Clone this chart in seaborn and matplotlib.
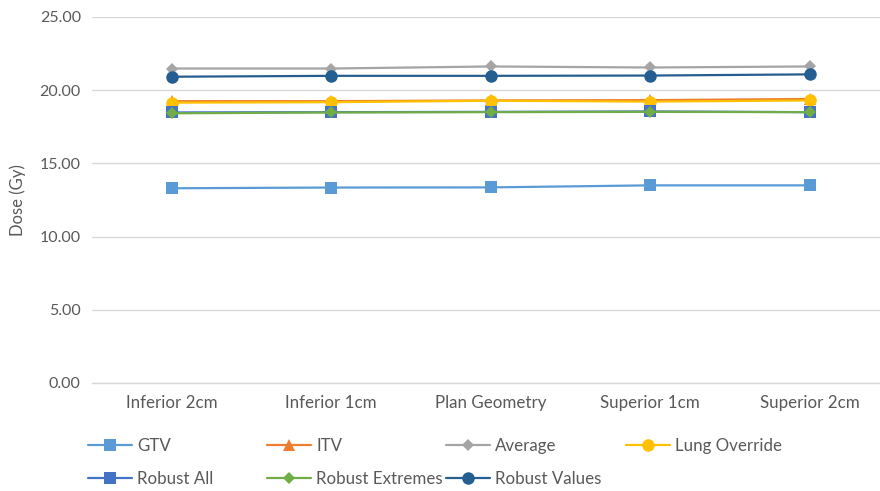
import matplotlib
matplotlib.use("Agg")
import matplotlib.pyplot as plt
import seaborn as sns
import pandas as pd

# Scenario positions along the x axis
categories = ["Inferior 2cm", "Inferior 1cm", "Plan Geometry", "Superior 1cm", "Superior 2cm"]

# Dose values (Gy) per structure / planning approach
gtv = [13.30, 13.35, 13.36, 13.50, 13.50]
itv = [19.25, 19.25, 19.30, 19.32, 19.40]
average = [21.48, 21.48, 21.62, 21.55, 21.62]
lung_override = [19.15, 19.18, 19.28, 19.22, 19.30]
robust_all = [18.48, 18.50, 18.52, 18.55, 18.50]
robust_extremes = [18.42, 18.48, 18.50, 18.52, 18.50]
robust_values = [20.92, 20.98, 20.98, 21.00, 21.08]

series_names = ["GTV", "ITV", "Average", "Lung Override",
                "Robust All", "Robust Extremes", "Robust Values"]
series_values = [gtv, itv, average, lung_override,
                 robust_all, robust_extremes, robust_values]

palette = {
    "GTV": "#5B9BD5",
    "ITV": "#ED7D31",
    "Average": "#A5A5A5",
    "Lung Override": "#FFC000",
    "Robust All": "#4472C4",
    "Robust Extremes": "#70AD47",
    "Robust Values": "#255E91",
}
markers = {
    "GTV": "s",
    "ITV": "^",
    "Average": "D",
    "Lung Override": "o",
    "Robust All": "s",
    "Robust Extremes": "D",
    "Robust Values": "o",
}
marker_sizes = {
    "GTV": 8, "ITV": 9, "Average": 6.5, "Lung Override": 9,
    "Robust All": 8, "Robust Extremes": 6.5, "Robust Values": 9,
}

rows = []
for name, vals in zip(series_names, series_values):
    for cat, v in zip(categories, vals):
        rows.append({"Scenario": cat, "Series": name, "Dose": v})
df = pd.DataFrame(rows)
df["Scenario"] = pd.Categorical(df["Scenario"], categories=categories, ordered=True)
df["x"] = df["Scenario"].cat.codes

sns.set_style("white")
plt.rcParams["font.family"] = ["Lato", "DejaVu Sans"]

W, H = 880, 491
fig = plt.figure(figsize=(W / 100, H / 100), dpi=100)
ax = fig.add_axes([0.1045, 0.22, 0.906, 0.7454])

handles = {}
for i, name in enumerate(series_names):
    sub = df[df["Series"] == name]
    sns.lineplot(data=sub, x="x", y="Dose", ax=ax, color=palette[name],
                 marker=markers[name], markersize=marker_sizes[name],
                 markeredgewidth=0, linewidth=1.6, zorder=3 + i,
                 legend=False)
    handles[name] = ax.lines[-1]

ax.set_xlim(-0.5, 4.5)
ax.set_ylim(0, 25)
yt = [0, 5, 10, 15, 20, 25]
ax.set_yticks(yt)
ax.set_yticklabels([f"{t:.2f}" for t in yt])
ax.set_xticks(range(len(categories)))
ax.set_xticklabels(categories)
ax.yaxis.grid(True, color="#D9D9D9", linewidth=1.0)
ax.set_axisbelow(True)
for s in ["top", "right", "left"]:
    ax.spines[s].set_visible(False)
ax.spines["bottom"].set_color("#D9D9D9")
ax.spines["bottom"].set_linewidth(1.0)
ax.tick_params(axis="both", length=0, colors="#595959")
ax.tick_params(axis="y", labelsize=11.5, pad=8)
ax.tick_params(axis="x", labelsize=12.2, pad=9)
ax.set_xlabel("")
ax.set_ylabel("Dose (Gy)", fontsize=12, color="#595959", labelpad=10)

# Legend: equal-width columns, two rows
columns = [["GTV", "Robust All"], ["ITV", "Robust Extremes"],
           ["Average", "Robust Values"], ["Lung Override"]]
col_x = [88, 267, 446, 626]
for names, x in zip(columns, col_x):
    leg = fig.legend([handles[n] for n in names], names, ncol=1,
                     loc="upper left", bbox_to_anchor=(x / W, 1 - 438 / H),
                     frameon=False, fontsize=12.2, handlelength=2.6,
                     handletextpad=0.3, labelspacing=1.02,
                     borderpad=0, borderaxespad=0)
    for t in leg.get_texts():
        t.set_color("#595959")

fig.savefig("out.png", dpi=100)
